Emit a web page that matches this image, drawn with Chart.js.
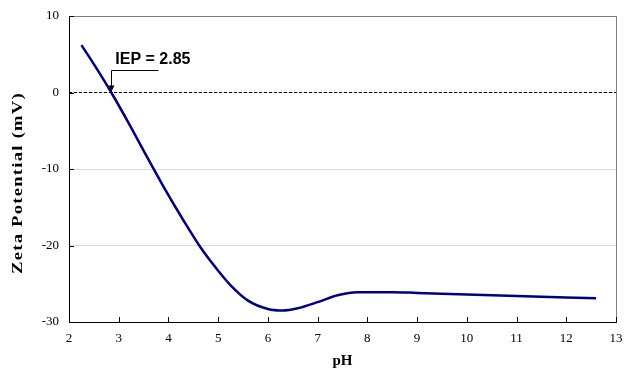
<!DOCTYPE html>
<html><head><meta charset="utf-8">
<script src="https://cdn.jsdelivr.net/npm/chart.js@4"></script>
<style>html,body{margin:0;padding:0;background:#fff}#wrap{width:626px;height:370px}</style>
</head><body><div id="wrap"><canvas id="c" width="626" height="370"></canvas></div>
<script>
const pH   = [2.25, 2.5, 2.85, 3.2, 3.5, 3.9, 4.3, 4.65, 5.0, 5.25, 5.6, 6.0, 6.3, 6.6, 7.0, 7.4, 7.8, 8.5, 9.0, 10.0, 11.0, 12.0, 12.6];
const zeta = [6.2, 3.7, 0.0, -4.0, -7.6, -12.3, -16.7, -20.3, -23.3, -25.2, -27.2, -28.3, -28.5, -28.2, -27.4, -26.5, -26.1, -26.1, -26.2, -26.4, -26.6, -26.8, -26.9];
const xTicks = [2,3,4,5,6,7,8,9,10,11,12,13];
const yTicks = [-30,-20,-10,0,10];
const iepValue = 2.85;
const iepLabel = 'IEP = 2.85';
const yTitle = 'Zeta Potential (mV)';

const insideTicks = {
  id:'insideTicks',
  afterDraw(chart){
    const {ctx, chartArea:a, scales:{x,y}} = chart;
    ctx.save();
    ctx.strokeStyle='#000'; ctx.lineWidth=1;
    xTicks.forEach(v=>{const px=Math.round(x.getPixelForValue(v))+0.5;ctx.beginPath();ctx.moveTo(px,a.bottom);ctx.lineTo(px,a.bottom-5);ctx.stroke();});
    yTicks.forEach(v=>{const py=Math.round(y.getPixelForValue(v))+0.5;ctx.beginPath();ctx.moveTo(a.left,py);ctx.lineTo(a.left+5,py);ctx.stroke();});
    // IEP annotation
    const ax=x.getPixelForValue(iepValue), ay=y.getPixelForValue(0);
    ctx.beginPath();
    ctx.moveTo(Math.round(ax)+0.5, ay-2);
    ctx.lineTo(Math.round(ax)+0.5, ay-22);
    ctx.lineTo(Math.round(ax)+47.5, ay-22);
    ctx.stroke();
    ctx.beginPath();
    ctx.moveTo(Math.round(ax)+0.5, ay-1);
    ctx.lineTo(Math.round(ax)-2.5, ay-7);
    ctx.lineTo(Math.round(ax)+3.5, ay-7);
    ctx.closePath(); ctx.fillStyle='#000'; ctx.fill();
    ctx.font='bold 16px "Liberation Sans", Arial, sans-serif';
    ctx.textAlign='left'; ctx.textBaseline='alphabetic';
    ctx.fillText(iepLabel, ax+4, ay-29);
    // y axis title
    ctx.translate(18, (a.top+a.bottom)/2 + 14);
    ctx.rotate(-Math.PI/2);
    ctx.font='bold 15px "Liberation Serif", "Times New Roman", serif';
    try{ ctx.letterSpacing='1px'; }catch(e){}
    const w = ctx.measureText(yTitle).width;
    ctx.scale(182 / w, 1);
    ctx.textAlign='center'; ctx.textBaseline='middle';
    ctx.fillText(yTitle, 0, 0);
    ctx.restore();
  }
};

new Chart(document.getElementById('c'), {
  type:'line',
  data:{datasets:[
    {data:pH.map((v,i)=>({x:v,y:zeta[i]})), borderColor:'#000080', borderWidth:2.5, pointRadius:0, cubicInterpolationMode:'monotone', fill:false, order:0},
    {data:[{x:2,y:0},{x:13,y:0}], borderColor:'#000', borderWidth:1, borderDash:[3,2], pointRadius:0, fill:false, order:1}
  ]},
  options:{
    responsive:false, animation:false, devicePixelRatio:1,
    layout:{padding:{top:16,right:10,left:0,bottom:0}},
    plugins:{legend:{display:false}, tooltip:{enabled:false}},
    scales:{
      x:{type:'linear', min:2, max:13,
        afterBuildTicks(s){s.ticks=xTicks.map(v=>({value:v}));},
        afterFit(s){s.height=48; s.paddingRight=0; s.paddingLeft=0;},
        grid:{drawTicks:false, color:c=>c.tick && c.tick.value===13?'#808080':'transparent', lineWidth:1},
        border:{color:'#000', width:1},
        ticks:{padding:9, color:'#000', font:{family:'"Liberation Serif", "Times New Roman", serif', size:13}, maxRotation:0, autoSkip:false},
        title:{display:true, text:'pH', color:'#000', font:{family:'"Liberation Serif", "Times New Roman", serif', size:15, weight:'bold'}, padding:{top:4,bottom:0}}
      },
      y:{type:'linear', min:-30, max:10,
        afterBuildTicks(s){s.ticks=yTicks.map(v=>({value:v}));},
        afterFit(s){s.width=69; s.paddingTop=0; s.paddingBottom=0;},
        grid:{drawTicks:false, color:c=>c.tick && c.tick.value===10?'#808080':'#d9d9d9', lineWidth:1},
        border:{color:'#000', width:1},
        ticks:{padding:10, color:'#000', font:{family:'"Liberation Serif", "Times New Roman", serif', size:13}}
      }
    }
  },
  plugins:[insideTicks]
});
</script></body></html>
